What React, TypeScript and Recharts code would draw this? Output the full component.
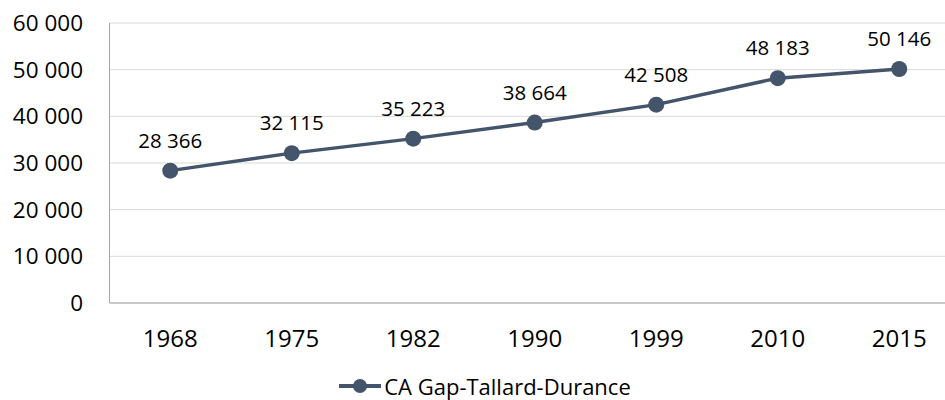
import { LineChart, Line, XAxis, YAxis, CartesianGrid, Legend, LabelList } from "recharts";

const years = ["1968", "1975", "1982", "1990", "1999", "2010", "2015"];
const population = [28366, 32115, 35223, 38664, 42508, 48183, 50146];
const yTicks = [0, 10000, 20000, 30000, 40000, 50000, 60000];
const seriesName = "CA Gap-Tallard-Durance";

const data = years.map((year, i) => ({ year, population: population[i] }));

const LINE = "#44546A";
const FONT = "'Open Sans', sans-serif";

// 28366 -> "28 366"
const formatThousands = (v: number) => String(v).replace(/\B(?=(\d{3})+(?!\d))/g, "\u00a0");

const renderLegend = () => (
  <div
    style={{
      display: "flex",
      alignItems: "center",
      justifyContent: "center",
      height: 28,
      paddingLeft: 10,
      fontFamily: FONT,
      fontSize: 22,
      color: "#000",
    }}
  >
    <svg width={42} height={16}>
      <line x1={0} y1={8} x2={42} y2={8} stroke={LINE} strokeWidth={4} />
      <circle cx={21} cy={8} r={7} fill={LINE} />
    </svg>
    <span style={{ marginLeft: 3 }}>{seriesName}</span>
  </div>
);

export default function App() {
  return (
    <div
      style={{
        position: "absolute",
        left: 0,
        top: 0,
        width: 945,
        height: 400,
        overflow: "hidden",
        background: "#fff",
      }}
    >
      <LineChart
        width={960}
        height={400}
        data={data}
        margin={{ top: 23, right: 0, bottom: 0, left: 0 }}
        style={{ fontFamily: FONT }}
      >
        <CartesianGrid vertical={false} stroke="#D9D9D9" />
        <XAxis
          dataKey="year"
          padding={{ left: 60.75, right: 60.75 }}
          height={69}
          stroke="#A6A6A6"
          tickLine={false}
          tickSize={0}
          tickMargin={27}
          tick={{ fill: "#000", fontSize: 24 }}
        />
        <YAxis
          domain={[0, 60000]}
          ticks={yTicks}
          width={109.5}
          stroke="#A6A6A6"
          tickLine={false}
          tickSize={0}
          tickMargin={26.5}
          tickFormatter={formatThousands}
          tick={{ fill: "#000", fontSize: 22.5 }}
        />
        <Legend verticalAlign="bottom" content={renderLegend} />
        <Line
          dataKey="population"
          name={seriesName}
          stroke={LINE}
          strokeWidth={3.5}
          dot={{ r: 8, fill: LINE, stroke: LINE, strokeWidth: 0 }}
          activeDot={false}
          isAnimationActive={false}
        >
          <LabelList
            dataKey="population"
            position="top"
            offset={23}
            formatter={formatThousands}
            style={{ fill: "#000", fontSize: 20.5 }}
          />
        </Line>
      </LineChart>
    </div>
  );
}
